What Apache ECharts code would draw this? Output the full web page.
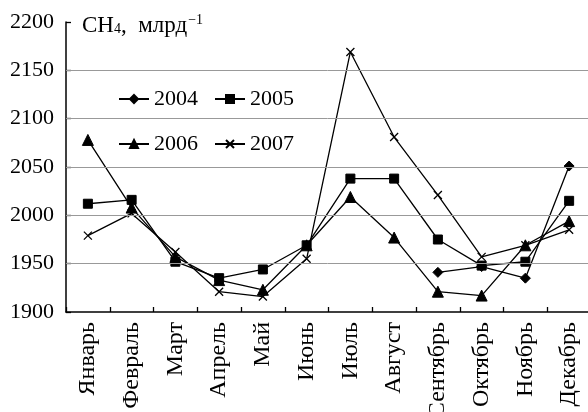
<!DOCTYPE html>
<html><head><meta charset="utf-8">
<script src="https://cdn.jsdelivr.net/npm/echarts@6/dist/echarts.min.js"></script>
<style>html,body{margin:0;padding:0;background:#fff}#c{width:588px;height:412px}</style>
</head><body><div id="c"></div>
<script>
const months = ['Январь','Февраль','Март','Апрель','Май','Июнь','Июль','Август','Сентябрь','Октябрь','Ноябрь','Декабрь'];
const s2004 = [null,null,null,null,null,null,null,null,1941,1947,1935,2051];
const s2005 = [2012,2016,1952,1935,1944,1969,2038,2038,1975,1948,1952,2015];
const s2006 = [2078,2008,1957,1933,1923,1969,2019,1977,1921,1917,1969,1994];
const s2007 = [1979,2002,1962,1921,1916,1955,2169,2081,2021,1957,1969,1985];
const gridValues = [1950,2000,2050,2100,2150];
const yMin = 1900, yMax = 2200, yStep = 50;

const font = 'Liberation Serif, Times New Roman, serif';
const crossPath = 'path://M0,0L10,10M10,0L0,10';
function mk(name, data, symbol, size, extra) {
  return Object.assign({
    name: name, type: 'line', data: data, symbol: symbol, symbolSize: size,
    showSymbol: true, connectNulls: false,
    lineStyle: {color: '#000', width: 1.3},
    itemStyle: {color: '#000', borderColor: '#000', borderWidth: 1},
    emphasis: {disabled: true}, animation: false
  }, extra || {});
}
const chart = echarts.init(document.getElementById('c'), null, {renderer: 'canvas'});
chart.setOption({
  animation: false,
  textStyle: {fontFamily: font, fontSize: 22},
  grid: {left: 66, top: 22, width: 525, height: 290, containLabel: false, outerBoundsMode: 'none'},
  title: {
    text: 'CH{sub|4},  млрд{sup|−1}',
    left: 77, top: 8,
    textStyle: {fontFamily: font, fontSize: 23, fontWeight: 'normal', color: '#000',
      rich: {
        sub: {fontFamily: font, fontSize: 14, padding: [8, 0, 0, 0], color: '#000'},
        sup: {fontFamily: font, fontSize: 14, padding: [0, 0, 11, 1], color: '#000'}
      }}
  },
  legend: [
    {data: ['2004','2005'], left: 113, top: 83, itemWidth: 30, itemHeight: 10, itemGap: 16,
     textStyle: {fontFamily: font, fontSize: 22, color: '#000'}},
    {data: ['2006','2007'], left: 113, top: 128, itemWidth: 30, itemHeight: 10, itemGap: 16,
     textStyle: {fontFamily: font, fontSize: 22, color: '#000'}}
  ],
  xAxis: {
    type: 'category', data: months, boundaryGap: true,
    axisLine: {lineStyle: {color: '#000', width: 1.5}},
    axisTick: {show: true, inside: true, length: 5, lineStyle: {color: '#000', width: 1.3}},
    axisLabel: {rotate: 90, margin: 10, fontFamily: font, fontSize: 24, color: '#000', interval: 0, hideOverlap: false},
    splitLine: {show: false}
  },
  yAxis: {
    type: 'value', min: yMin, max: yMax, interval: yStep,
    axisLine: {show: true, lineStyle: {color: '#000', width: 1.5}},
    axisTick: {show: true, inside: true, length: 5, lineStyle: {color: '#000', width: 1.3}},
    axisLabel: {fontFamily: font, fontSize: 22, color: '#000', margin: 12, formatter: v => String(v)},
    splitLine: {show: false}
  },
  series: [
    mk('2004', s2004, 'diamond', 10, {
      markLine: {silent: true, symbol: 'none', label: {show: false},
        lineStyle: {color: '#999', width: 1, type: 'solid'},
        data: gridValues.map(v => ({yAxis: v}))}
    }),
    mk('2005', s2005, 'rect', 9),
    mk('2006', s2006, 'triangle', 11),
    mk('2007', s2007, crossPath, 8, {itemStyle: {color: 'none', borderColor: '#000', borderWidth: 1.3}})
  ]
});
</script></body></html>
